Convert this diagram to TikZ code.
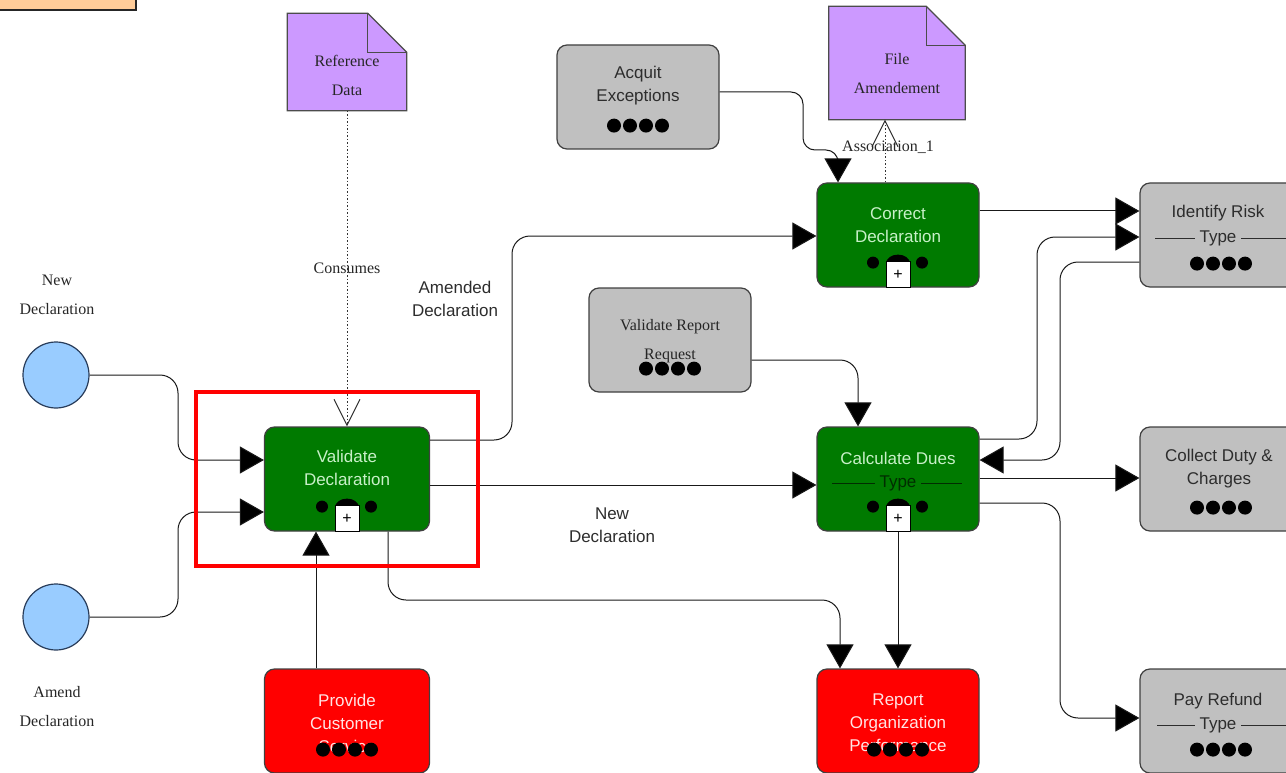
\documentclass[tikz,border=0pt]{standalone}
\usepackage{fontspec}
\setmainfont{Liberation Sans}
\newfontfamily\timesfont{Liberation Serif}
\usetikzlibrary{arrows.meta,positioning,calc}
\definecolor{taskgreen}{RGB}{0,122,0}
\definecolor{taskgray}{RGB}{192,192,192}
\definecolor{taskred}{RGB}{255,0,0}
\definecolor{docpurple}{RGB}{204,153,255}
\definecolor{eventblue}{RGB}{153,204,255}
\definecolor{eventline}{RGB}{40,60,90}
\definecolor{legendorange}{RGB}{255,204,153}
\definecolor{greentext}{RGB}{200,240,200}
\definecolor{redtext}{RGB}{255,228,228}
\definecolor{graytext}{RGB}{45,45,45}
\definecolor{typegreen}{RGB}{0,45,0}

\begin{document}
\begin{tikzpicture}[x=1pt,y=-1pt,
	task/.style={draw=black!75, line width=1.2pt, rounded corners=10pt, minimum width=162pt, minimum height=104pt, inner sep=0pt},
	greentask/.style={task, fill=taskgreen},
	graytask/.style={task, fill=taskgray},
	redtask/.style={task, fill=taskred},
	event/.style={circle, draw=eventline, fill=eventblue, line width=1.2pt, minimum size=66pt, inner sep=0pt},
	docnode/.style={inner sep=0pt},
	boxtext/.style={align=center, inner sep=0pt, font=\fontsize{17}{23}\selectfont},
	serif/.style={align=center, inner sep=0pt, font=\timesfont\fontsize{16}{29}\selectfont, text=black!85},
	flow/.style={draw=black!90, line width=1pt, rounded corners=18pt, -{Triangle[length=24pt,width=27pt,fill=black]}},
	assoc/.style={draw=black!80, line width=1pt, dash pattern=on 1.5pt off 2pt, -{Straight Barb[length=26pt,width=26pt,line width=1pt]}},
	typeline/.style={line width=1pt},
	highlight/.style={draw=red, line width=4pt}
]
	\useasboundingbox (0,0) rectangle (1286,773);
	\clip (0,0) rectangle (1286,773);

	% legend box, cut at the corner
	\draw[fill=legendorange, draw=black!85, line width=2pt] (-20,-20) rectangle (136,10);

	% events
	\node[event] (newdecl) at (56,375) {};
	\node[event] (amenddecl) at (56,617) {};
	\node[serif] (newdecl-lbl) at (57,295) {New\\Declaration};
	\node[serif] (amenddecl-lbl) at (57,707) {Amend\\Declaration};

	% data objects
	\node[docnode, minimum width=119pt, minimum height=97pt] (refdata) at (347,62) {};
	\node[docnode, minimum width=136pt, minimum height=113pt] (filamend) at (897,63) {};
	\foreach \d in {refdata,filamend} {
		\draw[fill=docpurple, draw=black!70, line width=1.2pt] (\d.north west) -- ($(\d.north east)+(-39,0)$) -- ($(\d.north east)+(0,39)$) -- (\d.south east) -- (\d.south west) -- cycle;
		\draw[draw=black!70, line width=1.2pt] ($(\d.north east)+(-39,0)$) |- ($(\d.north east)+(0,39)$);
	}
	\node[serif] (refdata-t) at ($(refdata)+(0,13)$) {Reference\\Data};
	\node[serif] (filamend-t) at ($(filamend)+(0,11)$) {File\\Amendement};

	% tasks
	\node[greentask, minimum width=165pt] (valdecl) at (347,479) {};
	\node[greentask] (corrdecl) at (898,235) {};
	\node[greentask] (calcdues) at (898,479) {};
	\node[graytask] (acquit) at (638,97) {};
	\node[graytask] (valrep) at (670,340) {};
	\node[graytask] (identify) at (1221,235) {};
	\node[graytask] (collect) at (1221,479) {};
	\node[graytask] (payref) at (1221,721) {};
	\node[redtask, minimum width=165pt] (provide) at (347,721) {};
	\node[redtask] (report) at (898,721) {};

	% type bars
	\draw[typeline, typegreen] ($(calcdues)+(-66,4)$) -- ($(calcdues)+(64,4)$);
	\draw[typeline, graytext] ($(identify)+(-66,3)$) -- ($(identify)+(80,3)$);
	\draw[typeline, graytext] ($(payref)+(-64,4)$) -- ($(payref)+(80,4)$);

	% task texts
	\node[boxtext, text=greentext] (valdecl-t) at ($(valdecl)+(0,-11)$) {Validate\\Declaration};
	\node[boxtext, text=greentext] (corrdecl-t) at ($(corrdecl)+(0,-10)$) {Correct\\Declaration};
	\node[boxtext, text=greentext] (calcdues-t) at ($(calcdues)+(0,-21)$) {Calculate Dues};
	\node[boxtext, text=typegreen, fill=taskgreen, inner xsep=5pt] (calcdues-type) at ($(calcdues)+(0,4)$) {Type};
	\node[boxtext, text=graytext] (acquit-t) at ($(acquit)+(0,-11)$) {Acquit\\Exceptions};
	\node[serif] (valrep-t) at ($(valrep)+(0,1)$) {Validate Report\\Request};
	\node[boxtext, text=graytext] (identify-t) at ($(identify)+(-3,-22)$) {Identify Risk};
	\node[boxtext, text=graytext, fill=taskgray, inner xsep=5pt] (identify-type) at ($(identify)+(-3,3)$) {Type};
	\node[boxtext, text=graytext] (collect-t) at ($(collect)+(-2,-10)$) {Collect Duty \&\\Charges};
	\node[boxtext, text=graytext] (payref-t) at ($(payref)+(-3,-20)$) {Pay Refund};
	\node[boxtext, text=graytext, fill=taskgray, inner xsep=5pt] (payref-type) at ($(payref)+(-3,4)$) {Type};
	\node[boxtext, text=redtext] (provide-t) at ($(provide)+(0,2)$) {Provide\\Customer\\Service};
	\node[boxtext, text=redtext] (report-t) at ($(report)+(0,2)$) {Report\\Organization\\Performance};

	% sub-process markers
	\foreach \n in {valdecl,corrdecl,calcdues} {
		\fill ($(\n.south)+(-25,-25)$) circle (6pt);
		\fill ($(\n.south)+(24,-25)$) circle (6pt);
		\fill ($(\n.south)+(-12,-24)$) arc[start angle=180, end angle=0, x radius=12pt, y radius=9pt] -- cycle;
		\draw[fill=white, line width=0.8pt] ($(\n.south)+(-12,-26)$) rectangle ($(\n.south)+(12,0)$);
		\node[inner sep=0pt, font=\fontsize{16}{16}\selectfont] (\n-plus) at ($(\n.south)+(0,-13)$) {+};
	}
	% loop markers
	\foreach \n in {acquit,valrep,identify,collect,provide,report,payref}
		\foreach \dx in {-24,-8,8,24}
			\fill ($(\n.south)+(\dx,-24)$) circle (7pt);

	% associations
	\draw[assoc] (refdata.south) -- (refdata.south |- valdecl.north)
		node[serif, pos=0.5] (consumes) {Consumes};
	\draw[assoc] ($(corrdecl.north)+(-13,0)$) -- ($(filamend.south)+(-12,0)$);
	\node[serif] (assoc-lbl) at (888,147) {Association\_1};

	% sequence flows
	\draw[flow] (newdecl.east) -| (178,420) |- ($(valdecl.west)+(0,-19)$);
	\draw[flow] (amenddecl.east) -| (178,560) |- ($(valdecl.west)+(0,33)$);
	\draw[flow] ($(provide.north)+(-31,0)$) -- ($(valdecl.south)+(-31,0)$);
	\draw[flow] ($(valdecl.east)+(0,-39)$) -| (512,300) |- ($(corrdecl.west)+(0,1)$);
	\draw[flow] ($(valdecl.east)+(0,6)$) -- ($(calcdues.west)+(0,6)$);
	\draw[flow] ($(valdecl.south)+(41,0)$) |- (700,600) -| ($(report.north)+(-58,0)$);
	\draw[flow, rounded corners=12pt] ($(acquit.east)+(0,-5)$) -| (803,150) -| ($(corrdecl.north)+(-60,0)$);
	\draw[flow] ($(valrep.east)+(0,20)$) -| ($(calcdues.north)+(-40,0)$);
	\draw[flow] ($(corrdecl.east)+(0,-24)$) -- ($(identify.west)+(0,-24)$);
	\draw[flow] ($(calcdues.east)+(0,-40)$) -| (1037,300) |- ($(identify.west)+(0,2)$);
	\draw[flow] ($(identify.west)+(0,27)$) -| (1060,400) |- ($(calcdues.east)+(0,-19)$);
	\draw[flow] ($(calcdues.east)+(0,-1)$) -- ($(collect.west)+(0,-1)$);
	\draw[flow] (calcdues.south) -- (report.north);
	\draw[flow] ($(calcdues.east)+(0,24)$) -| (1060,600) |- ($(payref.west)+(0,-3)$);

	% flow labels
	\node[boxtext, text=graytext] (amended-lbl) at (455,299) {Amended\\Declaration};
	\node[boxtext, text=graytext] (newflow-lbl) at (612,525) {New\\Declaration};

	% highlight
	\draw[highlight] (196,392) rectangle (478,566);
\end{tikzpicture}
\end{document}
